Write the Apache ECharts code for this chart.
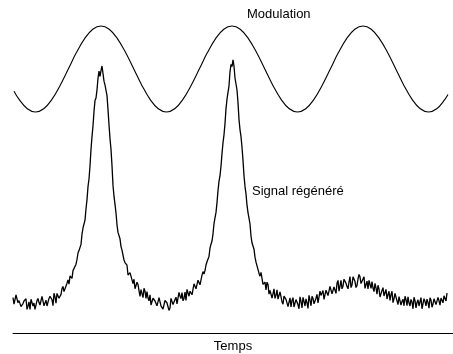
<!DOCTYPE html>
<html>
<head>
<meta charset="utf-8">
<script src="https://cdn.jsdelivr.net/npm/echarts@6/dist/echarts.min.js"></script>
<style>
  html, body { margin: 0; padding: 0; background: #fff; }
  #chart { width: 453px; height: 354px; }
</style>
</head>
<body>
<div id="chart"></div>
<script>
// Modulation (reference sine), time in ps, amplitude in arbitrary units
const modT = [1, 6.1, 14.3, 22.5, 30.7, 38.9, 47.1, 55.3, 63.4, 71.6, 79.8, 88,
  96.2, 104.4, 112.6, 120.8, 128.9, 137.1, 145.3, 153.5, 161.7, 169.9, 178.1, 186.3,
  194.4, 202.6, 210.8, 219, 227.2, 235.4, 243.6, 251.8, 259.9, 268.1, 276.3, 284.5,
  292.7, 300.9, 309.1, 317.3, 325.4, 333.6, 341.8, 350, 358.2, 366.4, 374.6, 382.8,
  390.9, 399.1, 407.3, 415.5, 423.7, 431.9, 435];
const modV = [120.9, 116.8, 112.1, 110.5, 112.1, 116.8, 123.8, 132, 140.2, 147.2, 151.9, 153.5,
  151.9, 147.2, 140.2, 132, 123.8, 116.8, 112.1, 110.5, 112.1, 116.8, 123.8, 132,
  140.2, 147.2, 151.9, 153.5, 151.9, 147.2, 140.2, 132, 123.8, 116.8, 112.1, 110.5,
  112.1, 116.8, 123.8, 132, 140.2, 147.2, 151.9, 153.5, 151.9, 147.2, 140.2, 132,
  123.8, 116.8, 112.1, 110.5, 112.1, 116.8, 119.2];

// Regenerated signal, sampled every 1 ps from t = 0
const sigStart = 0;
const sigStep = 1;
const sigV = [
  17.7,14.4,14.5,19.0,18.6,15.1,16.2,17.2,13.2,12.7,14.7,16.0,16.9,17.1,11.8,13.4,
  15.6,11.8,16.9,15.9,13.5,15.0,11.8,12.4,16.2,17.3,15.2,14.0,13.2,18.3,18.5,13.6,
  15.0,16.4,13.5,13.6,17.3,18.4,18.7,16.6,13.7,19.9,18.1,14.9,19.8,19.5,17.4,17.9,
  19.3,22.2,23.3,20.7,20.1,20.7,24.9,26.5,24.4,28.5,29.4,27.3,31.2,32.0,32.1,34.4,
  36.8,40.0,41.2,41.5,44.3,49.4,52.5,52.9,56.4,62.1,66.7,73.2,77.0,83.5,91.8,98.2,
  103.6,110.8,116.2,117.5,121.6,127.3,131.0,128.3,131.2,133.5,132.8,125.9,124.0,123.3,118.7,111.7,
  104.2,97.2,91.8,83.7,73.8,68.4,64.3,60.0,54.1,50.3,49.4,47.1,43.2,41.4,40.9,36.5,
  35.2,35.8,33.9,29.0,28.1,30.2,29.2,26.6,24.7,26.9,22.1,22.4,25.4,24.3,21.2,18.3,
  21.7,21.1,17.7,22.4,20.9,17.3,20.7,17.5,16.1,19.1,14.0,13.9,17.4,17.3,16.0,16.3,
  13.6,12.9,17.7,17.4,13.6,13.6,11.9,12.6,16.3,16.2,15.0,14.6,11.3,12.6,17.3,18.0,
  14.2,14.9,16.7,17.9,14.6,14.2,20.3,18.4,17.2,20.2,16.1,17.3,20.4,16.3,21.8,21.1,
  18.4,20.9,21.3,19.1,19.3,24.6,25.1,22.1,23.0,26.4,26.4,24.1,25.0,28.9,30.7,29.5,
  31.2,34.0,35.6,36.2,38.3,42.4,44.4,46.0,49.6,54.7,57.6,60.3,65.2,71.2,75.8,78.7,
  83.4,89.7,95.2,99.1,104.7,112.2,116.9,120.3,123.6,130.6,134.3,133.2,136.6,133.4,127.5,124.5,
  121.5,115.2,106.7,101.7,98.2,92.9,86.3,78.6,73.3,69.6,63.9,60.2,57.4,54.5,48.5,45.1,
  44.3,41.9,37.9,35.4,36.4,35.1,29.9,28.4,30.3,29.6,24.3,24.6,25.4,21.5,25.4,24.3,
  19.4,21.3,22.0,17.5,19.6,22.1,17.3,18.8,21.6,16.9,17.3,20.6,18.2,15.5,14.4,18.4,
  18.7,16.8,17.1,13.2,14.2,17.6,13.0,16.3,17.7,13.0,14.9,16.7,16.7,14.1,12.1,18.1,
  15.8,12.5,17.8,15.8,13.5,17.1,15.1,12.3,18.8,16.4,13.6,18.4,17.3,14.6,15.5,17.4,
  19.3,15.0,15.2,20.9,18.8,17.8,21.2,16.8,17.6,21.4,21.0,18.7,19.5,23.3,23.8,19.6,
  19.3,23.0,22.6,19.8,24.9,26.3,20.9,23.4,26.3,22.1,23.4,26.9,27.5,24.9,23.2,22.1,
  25.5,28.2,22.7,24.0,28.1,27.0,25.7,22.7,23.8,27.0,29.3,28.1,24.7,23.8,27.0,28.1,
  22.3,24.2,25.9,22.0,26.3,25.5,22.3,25.7,22.5,20.7,24.8,22.6,19.4,23.9,21.9,18.0,
  18.8,21.3,22.7,18.5,19.2,21.8,17.0,19.2,20.9,16.3,19.2,20.9,15.2,17.1,19.8,18.8,
  16.1,14.2,18.2,19.1,14.0,15.8,16.9,13.6,18.4,16.7,13.7,18.1,15.0,13.5,16.8,15.5,
  12.1,17.9,16.2,12.6,15.3,16.6,13.5,14.2,17.7,12.1,12.9,17.2,15.8,13.6,16.9,15.3,
  12.4,17.6,16.5,12.9,14.5,17.1,17.7,14.2,13.5,17.8,16.1,13.9,17.5,16.7,15.1,18.6,
  17.8,16.0,20.0];

const axisName = 'Temps';
const modName = 'Modulation';
const sigName = 'Signal régénéré';

const FONT = '"Liberation Sans", Arial, Helvetica, sans-serif';

const modData = modT.map((t, i) => [t, modV[i]]);
const sigData = sigV.map((v, i) => [sigStart + i * sigStep, v]);

const chart = echarts.init(document.getElementById('chart'), null, { renderer: 'canvas' });
chart.setOption({
  animation: false,
  backgroundColor: '#ffffff',
  grid: { left: 13, right: 0, top: 13, bottom: 21, containLabel: false, outerBoundsMode: 'none' },
  xAxis: {
    type: 'value',
    min: 0,
    max: 440,
    name: axisName,
    nameLocation: 'middle',
    nameGap: 7,
    nameTextStyle: { color: '#000', fontSize: 13, fontFamily: FONT },
    axisLine: { show: true, lineStyle: { color: '#000', width: 1 } },
    axisTick: { show: false },
    axisLabel: { show: false },
    splitLine: { show: false }
  },
  yAxis: {
    type: 'value',
    min: 0,
    max: 160,
    show: false
  },
  graphic: [
    { type: 'text', left: 247, top: 8,
      style: { text: modName, fill: '#000', font: '13px ' + FONT } },
    { type: 'text', left: 252, top: 185,
      style: { text: sigName, fill: '#000', font: '13px ' + FONT } }
  ],
  series: [
    {
      name: modName,
      type: 'line',
      data: modData,
      smooth: 0.4,
      showSymbol: false,
      lineStyle: { color: '#000', width: 1.1 }
    },
    {
      name: sigName,
      type: 'line',
      data: sigData,
      showSymbol: false,
      lineStyle: { color: '#000', width: 1.3 }
    }
  ]
});
</script>
</body>
</html>
